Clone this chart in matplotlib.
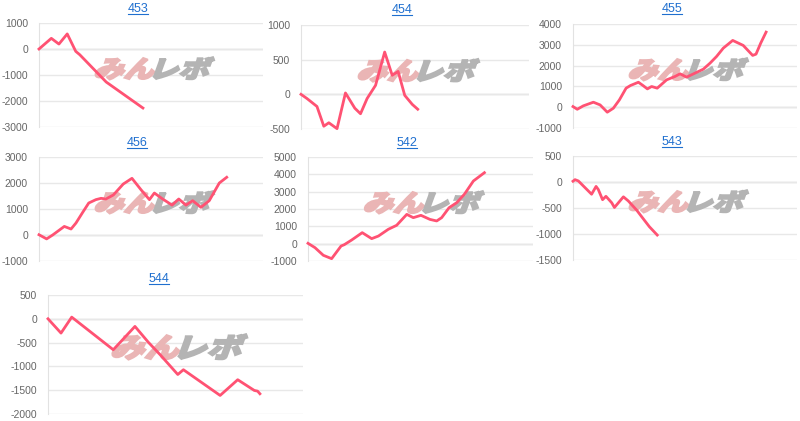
"""
Small-multiples of cumulative balance lines (7 machines), white background,
with a faint "みんレボ" watermark behind each line.
Output: out.png (800x421)
"""

import matplotlib
matplotlib.use("Agg")
import matplotlib.pyplot as plt
from matplotlib.font_manager import FontProperties
from matplotlib.lines import Line2D
from matplotlib.patches import PathPatch
from matplotlib.textpath import TextPath
from matplotlib.transforms import Affine2D

plt.rcParams["axes.unicode_minus"] = False

# x = position along the (shared 0..100) game axis, y = balance
X_453 = [0, 5.5, 8.9, 12.6, 16.4, 18.2, 30, 46.4]
Y_453 = [0, 410, 190, 580, -90, -220, -1270, -2270]

X_454 = [0, 2.6, 7.0, 10.0, 12.2, 15.8, 19.5, 23.6, 26.1, 29.0, 32.7, 36.7, 40.0, 42.6, 45.5, 48.8, 51.2]
Y_454 = [0, -60, -175, -460, -410, -495, 20, -200, -280, -60, 130, 610, 275, 330, -15, -145, -215]

X_455 = [0, 1.9, 4.6, 9.1, 12.1, 15.3, 18.0, 20.7, 23.7, 25.7, 29.2, 31.4, 33.2, 35.1, 37.6,
         41.8, 45.5, 47.8, 50.7, 54.5, 58.2, 61.2, 64.1, 67.1, 71.3, 76.0, 80.2, 81.7, 83.8, 86.2]
Y_455 = [30, -100, 65, 240, 110, -240, -50, 350, 915, 1045, 1200, 1030, 880, 995, 915,
         1315, 1475, 1605, 1445, 1640, 1830, 2120, 2440, 2840, 3210, 2970, 2490, 2550, 3080, 3610]

X_456 = [0, 3.4, 6.1, 11.3, 14.3, 16.5, 19.5, 22.2, 25.4, 27.7, 29.9, 33.2, 37.6, 41.5, 45.5,
         49.3, 51.5, 55.2, 59.4, 62.4, 65.6, 68.6, 72.3, 76.0, 80.5, 83.8]
Y_456 = [10, -150, 0, 330, 230, 460, 870, 1230, 1360, 1410, 1385, 1540, 1960, 2180, 1745,
         1360, 1615, 1385, 1150, 1385, 1150, 1320, 1065, 1320, 2000, 2220]

X_542 = [0, 3.1, 6.8, 10.5, 14.7, 16.1, 19.4, 24.1, 28.3, 31.3, 35.7, 39.4, 43.9, 46.8, 50.2,
         54.2, 57.2, 59.4, 62.7, 66.1, 69.5, 73.5, 78.4]
Y_542 = [20, -230, -670, -865, -135, -60, 210, 635, 290, 440, 830, 1060, 1690, 1500, 1635,
         1400, 1310, 1500, 2075, 2365, 2850, 3615, 4095]

X_543 = [0, 0.9, 2.4, 5.4, 8.3, 10.3, 11.3, 13.2, 14.7, 17.3, 18.5, 22.5, 24.7, 28.4, 30.7, 34.1, 37.6]
Y_543 = [15, 45, 20, -110, -235, -85, -145, -340, -275, -400, -490, -285, -365, -540, -670, -860, -1020]

X_544 = [0, 5.1, 9.3, 25.6, 34.1, 39.3, 43.9, 50.9, 53.1, 67.5, 74.4, 80.9, 82.2, 83.1]
Y_544 = [0, -300, 35, -650, -160, -490, -750, -1170, -1070, -1610, -1280, -1505, -1520, -1575]

TITLES = ["453", "454", "455", "456", "542", "543", "544"]
Y_RANGES = [(-3000, 1000, 1000), (-500, 1000, 500), (-1000, 4000, 1000), (-1000, 3000, 1000),
            (-1000, 5000, 1000), (-1500, 500, 500), (-2000, 500, 500)]

W, H = 800, 421
# plot-area boxes in pixels: left, top, right, bottom ; title centre x, y
BOXES = [(39, 23, 263, 127), (301, 25, 529, 129), (573, 24, 797, 128),
         (39, 157, 263, 261), (308, 157, 533, 261), (573, 156, 797, 260),
         (48, 295, 303, 414)]
TITLE_POS = [(138, 9), (402, 10), (672, 9), (137, 143), (407, 143), (672, 142), (159, 279)]

LINE_COLOR = "#ff5273"
TITLE_COLOR = "#1f6fcf"
LABEL_FONT = ["Liberation Sans", "DejaVu Sans"]


def add_watermark(ax):
    """Slanted, squat 'みん' (pink) + 'レボ' (grey) in the middle of the plot area."""
    fp = FontProperties(family="Noto Sans CJK JP", weight="black")
    bb = ax.get_window_extent()
    size = bb.width * 0.135
    p1 = TextPath((0, 0), "みん", size=size, prop=fp)
    p2 = TextPath((0, 0), "レボ", size=size, prop=fp)
    e1, e2 = p1.get_extents(), p2.get_extents()
    gap = size * 0.02
    total = e1.width + gap + e2.width
    cx, cy = ax.transAxes.transform((0.5, 0.56))
    sy = 0.8
    x0 = cx - total / 2 - e1.x0
    y0 = cy - sy * (e1.height / 2 + e1.y0)
    shape = Affine2D().scale(1.0, sy).skew_deg(20, 0)
    t1 = shape + Affine2D().translate(x0, y0)
    t2 = shape + Affine2D().translate(x0 + e1.x0 + e1.width + gap - e2.x0, y0)
    ax.add_patch(PathPatch(p1, transform=t1, fc="#eab5b5", ec="#eab5b5", lw=1.4, zorder=1))
    ax.add_patch(PathPatch(p2, transform=t2, fc="#b4b4b4", ec="#b4b4b4", lw=1.4, zorder=1))


def draw_panel(fig, box, xs, ys, yrange):
    left, top, right, bottom = box
    ax = fig.add_axes([left / W, 1 - bottom / H, (right - left) / W, (bottom - top) / H])
    lo, hi, step = yrange
    ax.set_ylim(lo, hi)
    ax.set_xlim(0, 100)
    ax.set_yticks(list(range(lo, hi + 1, step)))
    ax.set_xticks([])
    ax.tick_params(axis="y", length=0, pad=8, labelsize=7.5, labelcolor="#666666")
    for lab in ax.get_yticklabels():
        lab.set_family(LABEL_FONT)
    for side in ("top", "right", "bottom"):
        ax.spines[side].set_visible(False)
    ax.spines["left"].set_color("#e2e2e2")
    ax.grid(axis="y", color="#e8e8e8", lw=1, zorder=0)
    ax.set_axisbelow(True)
    ax.axhline(0, color="#d2d2d2", lw=1, zorder=0.5)
    add_watermark(ax)
    ax.plot(xs, ys, color=LINE_COLOR, lw=2.0, solid_joinstyle="round", zorder=3, clip_on=False)
    return ax


def add_title(fig, text, pos):
    x, y = pos
    t = fig.text(x / W, 1 - y / H, text, ha="center", va="center", fontsize=9,
                 color=TITLE_COLOR, family=LABEL_FONT)
    fig.canvas.draw()
    bb = t.get_window_extent()
    inv = fig.transFigure.inverted()
    (x0, y0), (x1, _) = inv.transform([(bb.x0, bb.y0 + 1), (bb.x1, bb.y0 + 1)])
    fig.add_artist(Line2D([x0, x1], [y0, y0], transform=fig.transFigure, color=TITLE_COLOR, lw=0.8))


def main():
    series = [(X_453, Y_453), (X_454, Y_454), (X_455, Y_455), (X_456, Y_456),
              (X_542, Y_542), (X_543, Y_543), (X_544, Y_544)]
    fig = plt.figure(figsize=(W / 100, H / 100), dpi=100, facecolor="white")
    for (xs, ys), box, yr in zip(series, BOXES, Y_RANGES):
        draw_panel(fig, box, xs, ys, yr)
    for title, pos in zip(TITLES, TITLE_POS):
        add_title(fig, title, pos)
    fig.savefig("out.png", dpi=100, facecolor="white")
    plt.close(fig)


if __name__ == "__main__":
    main()
